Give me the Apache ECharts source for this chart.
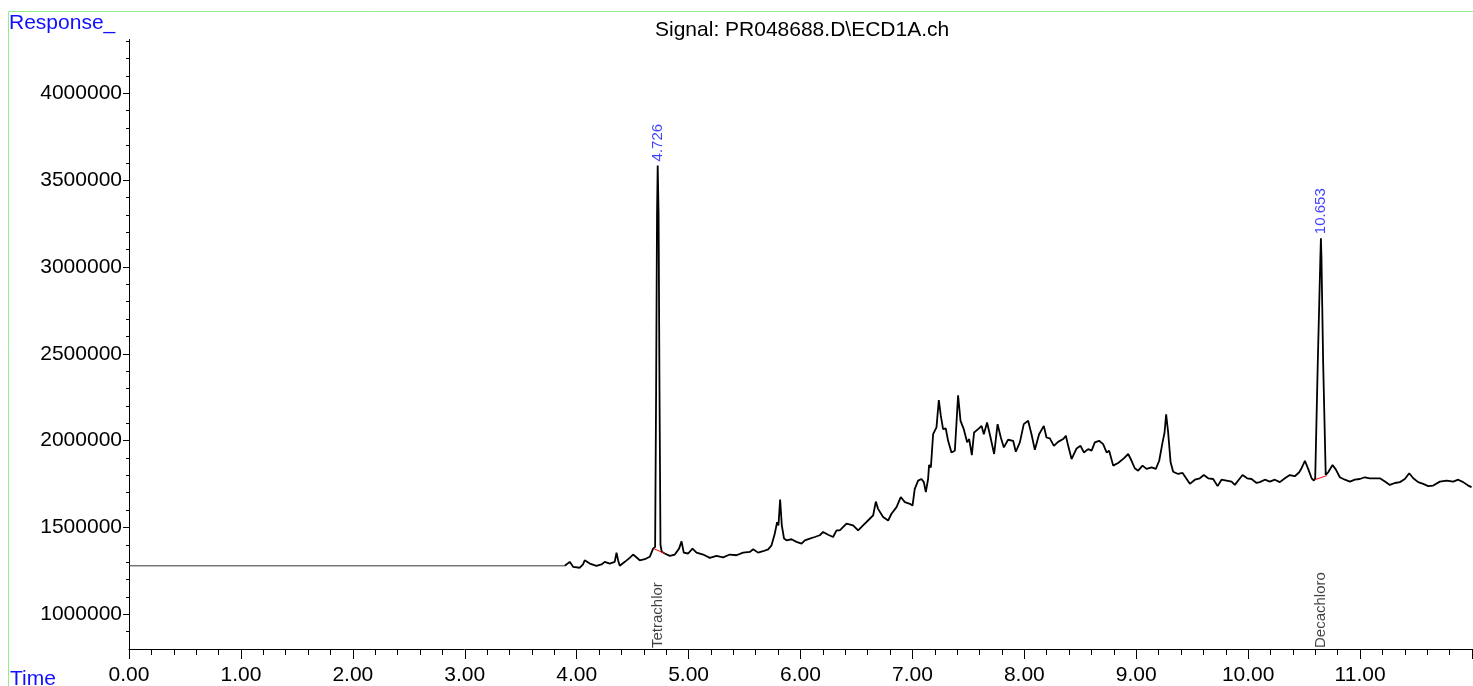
<!DOCTYPE html>
<html>
<head>
<meta charset="utf-8">
<script src="https://cdn.jsdelivr.net/npm/echarts@6/dist/echarts.min.js"></script>
<style>
html,body{margin:0;padding:0;background:#fff;}
#c{width:1473px;height:686px;}
</style>
</head>
<body>
<div id="c"></div>
<script>
// ---- data ----
const titleText = 'Signal: PR048688.D\\ECD1A.ch';
const yTicks = [1000000, 1500000, 2000000, 2500000, 3000000, 3500000, 4000000];

// flat (no acquisition) segment
const flatTime = [0, 3.894];
const flatResp = [1279000, 1279000];

// detector trace
const traceTime = [
3.894,3.938,3.968,4.028,4.057,4.072,4.117,4.177,4.222,4.251,4.296,4.340,4.356,4.370,4.385,4.430,4.474,4.504,4.528,4.564,4.609,4.653,4.683,4.701,
4.710,4.718,4.724,4.732,4.740,4.749,4.760,4.787,4.832,4.877,4.915,4.937,4.957,4.996,5.035,5.071,5.130,5.190,5.249,5.309,5.368,5.428,5.487,5.547,
5.577,5.621,5.666,5.711,5.741,5.770,5.791,5.803,5.818,5.833,5.853,5.875,5.920,5.964,6.009,6.039,6.083,6.128,6.172,6.202,6.247,6.291,6.322,
6.351,6.411,6.470,6.515,6.559,6.619,6.649,6.673,6.693,6.738,6.783,6.813,6.858,6.896,6.932,6.977,7.001,7.021,7.051,7.081,7.102,7.120,7.140,
7.149,7.165,7.185,7.215,7.236,7.254,7.274,7.298,7.319,7.349,7.379,7.394,7.408,7.430,7.459,7.489,7.507,7.531,7.551,7.587,7.618,7.638,7.667,
7.698,7.730,7.761,7.790,7.817,7.855,7.900,7.924,7.960,7.995,8.034,8.064,8.094,8.132,8.174,8.198,
8.228,8.264,8.302,8.347,8.371,8.392,8.422,8.467,8.502,8.532,8.570,8.601,8.630,8.668,8.704,8.735,8.758,8.794,8.838,8.889,8.928,8.958,8.987,
9.017,9.056,9.092,9.137,9.175,9.205,9.235,9.253,9.267,9.285,9.307,9.330,9.374,9.414,9.450,9.479,9.524,9.568,9.604,9.643,9.687,9.727,9.762,
9.807,9.852,9.881,9.911,9.950,9.991,10.030,10.075,
10.104,10.149,10.194,10.238,10.283,10.328,10.372,10.417,10.456,10.477,10.507,10.536,10.567,10.587,10.599,10.622,10.645,10.650,10.655,
10.670,10.693,10.715,10.754,10.784,10.819,10.864,10.909,10.953,10.998,11.043,11.087,11.132,11.177,11.222,11.266,11.311,11.356,11.400,
11.439,11.475,11.519,11.564,11.609,11.653,11.713,11.773,11.832,11.877,11.921,11.966,11.996
];
const traceResp = [
1279000,1302000,1273000,1268000,1287000,1311000,1292000,1279000,1287000,1302000,1292000,1302000,1355000,1311000,1279000,1302000,1325000,1344000,1331000,1311000,1317000,1331000,1378000,1388000,
2300000,3300000,3585000,3300000,2300000,1400000,1360000,1350000,1336000,1344000,1378000,1420000,1355000,1350000,1378000,1355000,1344000,1325000,1336000,1328000,1344000,1340000,1355000,1359000,
1374000,1355000,1363000,1374000,1397000,1464000,1531000,1512000,1661000,1512000,1436000,1426000,1432000,1417000,1407000,1426000,1436000,1445000,1455000,1474000,1458000,1445000,1483000,
1483000,1522000,1512000,1483000,1512000,1550000,1569000,1649000,1607000,1560000,1540000,1579000,1617000,1675000,1646000,1636000,1626000,1722000,1770000,1779000,1761000,1703000,1779000,
1860000,1846000,2037000,2076000,2234000,2142000,2066000,2070000,1999000,1932000,1942000,2104000,2261000,2114000,2066000,1990000,2009000,1917000,2047000,2066000,2085000,2037000,2104000,
2018000,1923000,2095000,2018000,1961000,2005000,1999000,1936000,1990000,2095000,2114000,2037000,1947000,2037000,2085000,2018000,
2013000,1970000,1993000,2009000,2028000,1970000,1894000,1955000,1970000,1932000,1951000,1942000,1990000,1999000,1980000,1932000,1942000,1856000,1871000,1898000,1923000,1884000,1841000,
1827000,1856000,1837000,1846000,1837000,1884000,1990000,2047000,2152000,2047000,1875000,1821000,1808000,1814000,1779000,1751000,1775000,1783000,1802000,1783000,1779000,1738000,1775000,
1770000,1764000,1745000,1770000,1802000,1783000,1779000,1756000,
1761000,1775000,1764000,1775000,1761000,1783000,1802000,1795000,1818000,1841000,1884000,1837000,1783000,1770000,1783000,2450000,3050000,3166000,3050000,
2450000,1802000,1818000,1860000,1833000,1789000,1775000,1764000,1775000,1779000,1789000,1783000,1783000,1783000,1764000,1745000,1756000,1761000,1779000,
1812000,1783000,1761000,1751000,1738000,1741000,1764000,1770000,1764000,1775000,1761000,1741000,1732000
];

// integrated peaks
const peakTimes = [4.726, 10.653];
const peakApex = [3585000, 3166000];
const peakNames = ['Tetrachlor', 'Decachloro'];
const base1Time = [4.689, 4.787];
const base1Resp = [1378000, 1350000];
const base2Time = [10.596, 10.700];
const base2Resp = [1775000, 1798000];

const Y_MIN = 800000, Y_MAX = 4310000;
// ---- chart ----
const FONT = 'Liberation Sans, Arial, sans-serif';
const zip = (a, b) => a.map((v, i) => [v, b[i]]);

const chart = echarts.init(document.getElementById('c'), null, {renderer: 'canvas'});
chart.setOption({
  animation: false,
  backgroundColor: '#ffffff',
  title: {
    text: titleText, left: 650, top: 15,
    textStyle: {fontFamily: FONT, fontSize: 21, fontWeight: 'normal', color: '#000'}
  },
  graphic: [
    {type: 'rect', z: -10, shape: {x: 8.5, y: 11.5, width: 1500, height: 700},
     style: {fill: 'none', stroke: '#90ee90', lineWidth: 1}},
    {type: 'text', left: 9, top: 13,
     style: {text: 'Response_', fill: '#1010ff', font: '21px ' + FONT}},
    {type: 'text', left: 10, top: 669,
     style: {text: 'Time', fill: '#1010ff', font: '21px ' + FONT}}
  ],
  grid: {left: 129, right: 1, top: 39.5, bottom: 34, containLabel: false},
  xAxis: {
    type: 'value', min: 0, max: 12, interval: 1,
    axisLine: {onZero: false, lineStyle: {color: '#000', width: 1}},
    axisTick: {show: true, length: 10, lineStyle: {color: '#000'}},
    minorTick: {show: true, splitNumber: 5, length: 6, lineStyle: {color: '#000'}},
    splitLine: {show: false},
    axisLabel: {
      formatter: v => v.toFixed(2), showMaxLabel: false, margin: 16,
      fontFamily: FONT, fontSize: 21, color: '#000'
    }
  },
  yAxis: {
    type: 'value', min: Y_MIN, max: Y_MAX, splitNumber: 7,
    axisLine: {show: true, lineStyle: {color: '#000', width: 1}},
    axisTick: {show: true, length: 6, lineStyle: {color: '#000'}, customValues: yTicks},
    minorTick: {show: true, splitNumber: 5, length: 3, lineStyle: {color: '#000'}},
    splitLine: {show: false},
    axisLabel: {
      margin: 7, customValues: yTicks,
      formatter: v => String(Math.round(v)),
      fontFamily: FONT, fontSize: 21, color: '#000'
    }
  },
  series: [
    {type: 'line', name: 'flat', data: zip(flatTime, flatResp), showSymbol: false,
     lineStyle: {color: '#333', width: 1}, silent: true},
    {type: 'line', name: 'signal', data: zip(traceTime, traceResp), showSymbol: false,
     lineStyle: {color: '#000', width: 1.8}, silent: true},
    {type: 'line', name: 'base1', data: zip(base1Time, base1Resp), showSymbol: false,
     lineStyle: {color: '#ff0000', width: 1}, z: 3, silent: true},
    {type: 'line', name: 'base2', data: zip(base2Time, base2Resp), showSymbol: false,
     lineStyle: {color: '#ff0000', width: 1}, z: 3, silent: true},
    {type: 'scatter', name: 'rt', data: zip(peakTimes, peakApex), symbolSize: 0, silent: true,
     label: {show: true, position: 'top', distance: 4, rotate: 90, align: 'left', verticalAlign: 'middle',
       formatter: p => peakTimes[p.dataIndex].toFixed(3),
       fontFamily: FONT, fontSize: 15, color: '#1010ff'}},
    {type: 'scatter', name: 'names', data: peakTimes.map(t => [t, Y_MIN]), symbolSize: 0, silent: true,
     label: {show: true, position: 'top', distance: 1, rotate: 90, align: 'left', verticalAlign: 'middle',
       formatter: p => peakNames[p.dataIndex],
       fontFamily: FONT, fontSize: 15, color: '#111'}}
  ]
});
</script>
</body>
</html>
